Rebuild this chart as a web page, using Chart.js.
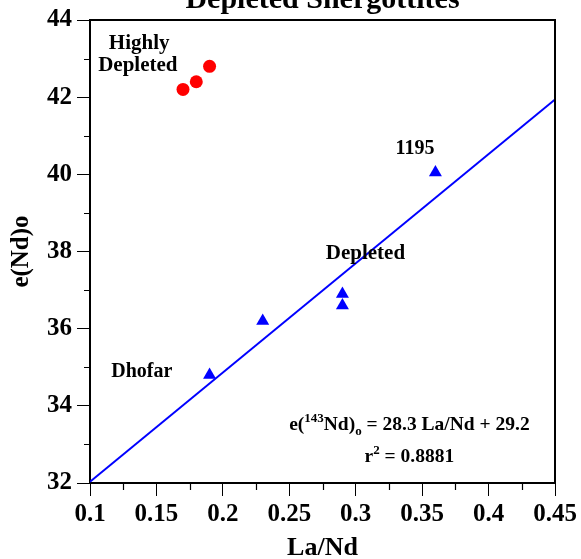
<!DOCTYPE html>
<html>
<head>
<meta charset="utf-8">
<script src="https://cdn.jsdelivr.net/npm/chart.js@4/dist/chart.umd.min.js"></script>
<style>
  html, body { margin: 0; padding: 0; background: #fff; }
  #wrap { width: 581px; height: 559px; position: relative; }
</style>
</head>
<body>
<div id="wrap"><canvas id="c" width="581" height="559"></canvas></div>
<script>
// ---- data ----
const highlyDepletedLaNd = [0.17, 0.18, 0.19];
const highlyDepletedENd  = [42.2, 42.4, 42.8];

const depletedLaNd = [0.19, 0.23, 0.29, 0.29, 0.36];
const depletedENd  = [34.8, 36.2, 36.9, 36.6, 40.05];

const fitLaNd = [0.10, 0.45];
const fitENd  = [32.03, 41.94];

const xTickMin = 0.1, xTickMax = 0.45, xTickStep = 0.05;
const yTickMin = 32, yTickMax = 44, yTickStep = 2;

const titleText = 'Depleted Shergottites';
const xTitle = 'La/Nd';
const yTitle = 'e(Nd)o';

const SERIF = '"Liberation Serif", "Times New Roman", serif';

function pts(xs, ys) { return xs.map((x, i) => ({ x: x, y: ys[i] })); }

const decor = {
  id: 'decor',
  afterDraw(chart) {
    const ctx = chart.ctx;
    const a = chart.chartArea;
    const xs = chart.scales.x, ys = chart.scales.y;
    ctx.save();
    // top and right frame
    ctx.strokeStyle = '#000';
    ctx.lineWidth = 2;
    ctx.beginPath();
    ctx.moveTo(a.left - 1, a.top);
    ctx.lineTo(a.right, a.top);
    ctx.lineTo(a.right, a.bottom + 1);
    ctx.stroke();
    // minor ticks
    ctx.lineWidth = 1.2;
    ctx.beginPath();
    for (let v = yTickMin + yTickStep / 2; v < yTickMax; v += yTickStep) {
      const p = Math.round(ys.getPixelForValue(v)) + 0.5;
      ctx.moveTo(a.left, p); ctx.lineTo(a.left - 6, p);
    }
    for (let k = 0; k < Math.round((xTickMax - xTickMin) / xTickStep); k++) {
      const v = xTickMin + (k + 0.5) * xTickStep;
      const p = Math.round(xs.getPixelForValue(v)) + 0.5;
      ctx.moveTo(p, a.bottom); ctx.lineTo(p, a.bottom + 7);
    }
    ctx.stroke();

    // title (clipped at top like the reference)
    ctx.fillStyle = '#000';
    ctx.font = 'bold 30px ' + SERIF;
    ctx.textAlign = 'center';
    ctx.textBaseline = 'alphabetic';
    ctx.fillText(titleText, (a.left + a.right) / 2, 8);

    // annotations (positioned in data units)
    function label(text, x, y, size) {
      ctx.font = 'bold ' + size + 'px ' + SERIF;
      ctx.textAlign = 'center';
      ctx.fillText(text, xs.getPixelForValue(x), ys.getPixelForValue(y));
    }
    label('Highly', 0.137, 43.25, 21);
    label('Depleted', 0.136, 42.68, 21);
    label('1195', 0.3446, 40.52, 20);
    label('Depleted', 0.3073, 37.81, 21);
    label('Dhofar', 0.139, 34.75, 20);

    // rich-text lines: [text, style] where style: n normal, sup, sub
    function rich(parts, cx, baseY) {
      ctx.textAlign = 'left';
      const big = 'bold 19.5px ' + SERIF, small = 'bold 13px ' + SERIF;
      let w = 0;
      parts.forEach(p => { ctx.font = p[1] === 'n' ? big : small; w += ctx.measureText(p[0]).width; });
      let x = cx - w / 2;
      parts.forEach(p => {
        ctx.font = p[1] === 'n' ? big : small;
        const dy = p[1] === 'sup' ? -8 : (p[1] === 'sub' ? 5 : 0);
        ctx.fillText(p[0], x, baseY + dy);
        x += ctx.measureText(p[0]).width;
      });
    }
    const cx = xs.getPixelForValue(0.3404);
    rich([['e(', 'n'], ['143', 'sup'], ['Nd)', 'n'], ['o', 'sub'], [' = 28.3 La/Nd + 29.2', 'n']], cx, ys.getPixelForValue(33.37));
    rich([['r', 'n'], ['2', 'sup'], [' = 0.8881', 'n']], cx, ys.getPixelForValue(32.54));
    ctx.restore();
  }
};

new Chart(document.getElementById('c'), {
  type: 'scatter',
  data: {
    datasets: [
      {
        label: 'Highly Depleted',
        data: pts(highlyDepletedLaNd, highlyDepletedENd),
        pointStyle: 'circle',
        pointRadius: 6.5,
        pointBackgroundColor: 'rgb(255,0,0)',
        pointBorderColor: 'rgb(255,0,0)',
        pointBorderWidth: 0
      },
      {
        label: 'Depleted',
        data: pts(depletedLaNd, depletedENd),
        pointStyle: 'triangle',
        pointRadius: 7.5,
        pointBackgroundColor: 'rgb(0,0,255)',
        pointBorderColor: 'rgb(0,0,255)',
        pointBorderWidth: 0
      },
      {
        label: 'Fit',
        type: 'line',
        data: pts(fitLaNd, fitENd),
        borderColor: 'rgb(0,0,255)',
        borderWidth: 2,
        pointRadius: 0,
        fill: false,
        showLine: true
      }
    ]
  },
  options: {
    responsive: false,
    animation: false,
    devicePixelRatio: 1,
    layout: { padding: { top: 18, right: 26, left: 0, bottom: 0 } },
    plugins: {
      legend: { display: false },
      tooltip: { enabled: false },
      title: { display: false }
    },
    scales: {
      x: {
        type: 'linear',
        min: xTickMin, max: xTickMax,
        afterFit(s) { s.height = 76; },
        ticks: {
          stepSize: xTickStep,
          padding: 4,
          color: '#000',
          font: { family: SERIF, size: 25, weight: 'bold' },
          maxRotation: 0,
          callback: v => String(Math.round(v * 100) / 100)
        },
        grid: { display: true, drawOnChartArea: false, drawTicks: true, tickLength: 13, color: '#000', lineWidth: 1 },
        border: { display: true, color: '#000', width: 2 },
        title: {
          display: true, text: xTitle, color: '#000',
          font: { family: SERIF, size: 26, weight: 'bold', lineHeight: 0.8 },
          padding: 0
        }
      },
      y: {
        type: 'linear',
        min: yTickMin, max: yTickMax,
        afterFit(s) { s.width = 90; },
        ticks: {
          stepSize: yTickStep,
          padding: 5,
          color: '#000',
          font: { family: SERIF, size: 25, weight: 'bold' }
        },
        grid: { display: true, drawOnChartArea: false, drawTicks: true, tickLength: 13, color: '#000', lineWidth: 1 },
        border: { display: true, color: '#000', width: 2 },
        title: {
          display: true, text: yTitle, color: '#000',
          font: { family: SERIF, size: 25, weight: 'bold', lineHeight: 1.2 },
          padding: { top: 6.5, bottom: 0 }
        }
      }
    }
  },
  plugins: [decor]
});
</script>
</body>
</html>
